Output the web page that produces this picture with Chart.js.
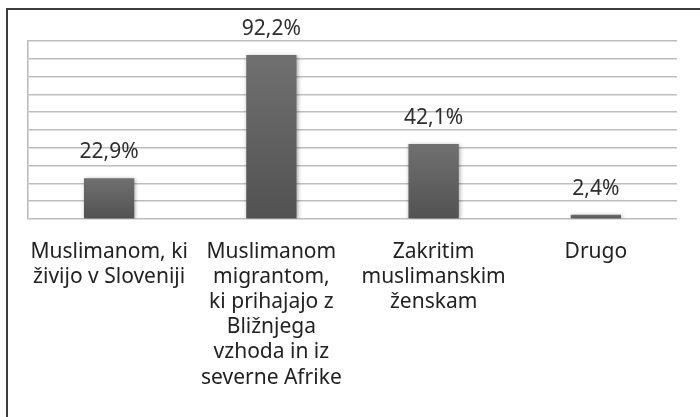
<!DOCTYPE html>
<html>
<head>
<meta charset="utf-8">
<script src="https://cdn.jsdelivr.net/npm/chart.js@4"></script>
<style>
  html, body { margin: 0; padding: 0; background: #ffffff; }
  #wrap { width: 700px; height: 417px; position: relative; }
</style>
</head>
<body>
<div id="wrap"><canvas id="c" width="700" height="417"></canvas></div>
<script>
const categories = [
  ['Muslimanom, ki', 'živijo v Sloveniji'],
  ['Muslimanom', 'migrantom,', 'ki prihajajo z', 'Bližnjega', 'vzhoda in iz', 'severne Afrike'],
  ['Zakritim', 'muslimanskim', 'ženskam'],
  ['Drugo']
];
const values = [22.9, 92.2, 42.1, 2.4];
const yMin = 0;
const yMax = 100;
const yStep = 10;

const FONT = '"Noto Sans", "Open Sans", sans-serif';

function barGradient(ctx) {
  const chart = ctx.chart;
  const area = chart.chartArea;
  if (!area || ctx.dataIndex === undefined) return '#5f5f5f';
  const y = chart.scales.y;
  const top = y.getPixelForValue(values[ctx.dataIndex]);
  const bottom = y.getPixelForValue(0);
  if (!isFinite(top) || !isFinite(bottom) || bottom - top < 1) return '#5a5a5a';
  const g = chart.ctx.createLinearGradient(0, top, 0, bottom);
  g.addColorStop(0, '#707070');
  g.addColorStop(1, '#525252');
  return g;
}

const framePlugin = {
  id: 'frame',
  beforeDraw(chart) {
    const c = chart.ctx;
    c.save();
    c.fillStyle = '#ffffff';
    c.fillRect(0, 0, chart.width, chart.height);
    c.strokeStyle = '#3c3c3c';
    c.lineWidth = 2;
    c.beginPath();
    c.moveTo(7, chart.height);
    c.lineTo(7, 9);
    c.lineTo(chart.width, 9);
    c.stroke();
    c.restore();
  }
};

const shadowPlugin = {
  id: 'barShadow',
  beforeDatasetDraw(chart) {
    const c = chart.ctx;
    c.save();
    c.shadowColor = 'rgba(0,0,0,0.35)';
    c.shadowBlur = 4;
    c.shadowOffsetX = 1;
    c.shadowOffsetY = 1;
  },
  afterDatasetDraw(chart) {
    chart.ctx.restore();
  }
};

const valueLabelPlugin = {
  id: 'valueLabels',
  afterDatasetsDraw(chart) {
    const c = chart.ctx;
    const meta = chart.getDatasetMeta(0);
    c.save();
    c.font = '21px ' + FONT;
    c.fillStyle = '#2e2e2e';
    c.textAlign = 'center';
    c.textBaseline = 'alphabetic';
    meta.data.forEach((bar, i) => {
      const txt = values[i].toFixed(1).replace('.', ',') + '%';
      c.fillText(txt, bar.x, bar.y - 20);
    });
    c.restore();
  }
};

new Chart(document.getElementById('c'), {
  type: 'bar',
  data: {
    labels: categories,
    datasets: [{
      data: values,
      backgroundColor: barGradient,
      borderWidth: 0,
      categoryPercentage: 1.0,
      barPercentage: 0.31
    }]
  },
  options: {
    responsive: false,
    animation: false,
    layout: { padding: { left: 28, right: 23, top: 41, bottom: 20 } },
    plugins: {
      legend: { display: false },
      tooltip: { enabled: false },
      title: { display: false }
    },
    scales: {
      x: {
        grid: { display: false, drawTicks: false },
        border: { display: false },
        ticks: {
          color: '#222222',
          font: { family: FONT, size: 21, lineHeight: 1.2 },
          padding: 20,
          maxRotation: 0,
          minRotation: 0,
          autoSkip: false
        }
      },
      y: {
        min: yMin,
        max: yMax,
        ticks: { display: false, stepSize: yStep },
        grid: { color: '#bdbdbd', lineWidth: 1.6, drawTicks: false },
        border: { display: true, color: '#bdbdbd', width: 1.6 }
      }
    }
  },
  plugins: [framePlugin, shadowPlugin, valueLabelPlugin]
});
</script>
</body>
</html>
